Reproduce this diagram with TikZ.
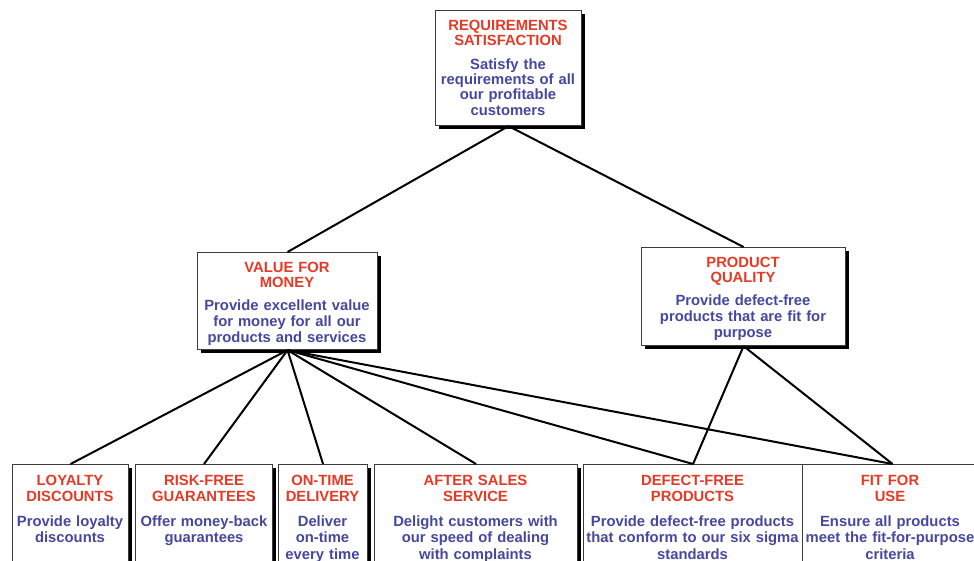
\documentclass[tikz,border=0pt]{standalone}
\usepackage{fontspec}
\setmainfont{Liberation Sans}
\usetikzlibrary{shadows}
\definecolor{ttlred}{RGB}{228,58,38}
\definecolor{bdyblue}{RGB}{70,72,160}
\definecolor{boxedge}{RGB}{60,60,60}
\tikzset{
  goalbox/.style={draw=boxedge, line width=1.1pt, fill=white, inner sep=0pt,
    anchor=north west,
    drop shadow={shadow xshift=3.5pt, shadow yshift=-3.5pt, fill=black, opacity=1}},
  goaltext/.style={anchor=north, inner sep=0pt, align=center, text width=250pt,
    font=\bfseries\fontsize{14.8}{#1}\selectfont},
  goaltext/.default=15.8,
  link/.style={line width=2pt, black},
}
\begin{document}
\begin{tikzpicture}[x=1pt,y=-1pt]
\useasboundingbox (0,0) rectangle (974,560);
\clip (0,0) rectangle (974,560);
\fill[white] (0,0) rectangle (974,560);

% top goal
\node[goalbox, minimum width=146pt, minimum height=115pt] (req) at (435,10) {};
\node[goaltext=15.2] (reqt) at (508,19.5)
  {\color{ttlred}REQUIREMENTS\\SATISFACTION\\[9pt]\color{bdyblue}Satisfy the\\requirements of all\\our profitable\\customers};

% second level
\node[goalbox, minimum width=180pt, minimum height=97pt] (vfm) at (197,252) {};
\node[goaltext] (vfmt) at (287,261.5)
  {\color{ttlred}VALUE FOR\\MONEY\\[7pt]\color{bdyblue}Provide excellent value\\for money for all our\\products and services};

\node[goalbox, minimum width=204pt, minimum height=98pt] (pq) at (641,247) {};
\node[goaltext] (pqt) at (743,256.5)
  {\color{ttlred}PRODUCT\\QUALITY\\[7pt]\color{bdyblue}Provide defect-free\\products that are fit for\\purpose};

% third level (boxes run past the lower edge)
\node[goalbox, minimum width=116pt, minimum height=140pt] (loy) at (12,464) {};
\node[goaltext=16.5] (loyt) at (70,474.5)
  {\color{ttlred}LOYALTY\\DISCOUNTS\\[8pt]\color{bdyblue}Provide loyalty\\discounts};

\node[goalbox, minimum width=137pt, minimum height=140pt] (rfg) at (135,464) {};
\node[goaltext=16.5] (rfgt) at (204,474.5)
  {\color{ttlred}RISK-FREE\\GUARANTEES\\[8pt]\color{bdyblue}Offer money-back\\guarantees};

\node[goalbox, minimum width=89pt, minimum height=140pt] (otd) at (278,464) {};
\node[goaltext=16.5] (otdt) at (322.5,474.5)
  {\color{ttlred}ON-TIME\\DELIVERY\\[8pt]\color{bdyblue}Deliver\\on-time\\every time};

\node[goalbox, minimum width=203pt, minimum height=140pt] (ass) at (374,464) {};
\node[goaltext=16.5] (asst) at (475.5,474.5)
  {\color{ttlred}AFTER SALES\\SERVICE\\[8pt]\color{bdyblue}Delight customers with\\our speed of dealing\\with complaints};

\node[goalbox, minimum width=219pt, minimum height=140pt] (dfp) at (583,464) {};
\node[goaltext=16.5] (dfpt) at (692.5,474.5)
  {\color{ttlred}DEFECT-FREE\\PRODUCTS\\[8pt]\color{bdyblue}Provide defect-free products\\that conform to our six sigma\\standards};

\node[goalbox, minimum width=180pt, minimum height=140pt] (ffu) at (802,464) {};
\node[goaltext=16.5] (ffut) at (890,474.5)
  {\color{ttlred}FIT FOR\\USE\\[8pt]\color{bdyblue}Ensure all products\\meet the fit-for-purpose\\criteria};

% connectors
\draw[link] (req.south) -- (vfm.north);
\draw[link] (req.south) -- (pq.north);
\foreach \child in {loy,rfg,otd,ass,dfp,ffu}
  \draw[link] (vfm.south) -- (\child.north);
\draw[link] (pq.south) -- (dfp.north);
\draw[link] (pq.south) -- (ffu.north);
\end{tikzpicture}
\end{document}
